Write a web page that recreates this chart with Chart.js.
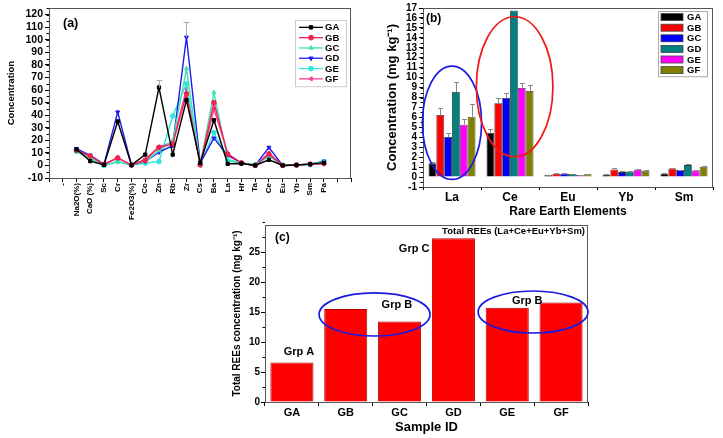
<!DOCTYPE html>
<html>
<head>
<meta charset="utf-8">
<script src="https://cdn.jsdelivr.net/npm/chart.js@4.4.0/dist/chart.umd.min.js"></script>
<style>
  html, body { margin: 0; padding: 0; background: #fff; }
  body { width: 723px; height: 438px; position: relative; overflow: hidden; }
  canvas { position: absolute; }
</style>
</head>
<body>
<canvas id="chartA" width="362" height="220" style="left:0;top:0"></canvas>
<canvas id="chartB" width="361" height="222" style="left:362px;top:0"></canvas>
<canvas id="chartC" width="390" height="220" style="left:215px;top:218px"></canvas>
<script>
const FONT = "'Liberation Sans', Arial, Helvetica, sans-serif";

// ---- (a) element concentrations per sample group ----
const elementLabels = ['', '-', 'Na2O(%)', 'CaO (%)', 'Sc', 'Cr', 'Fe2O3(%)', 'Co', 'Zn', 'Rb', 'Zr', 'Cs',
    'Ba', 'La', 'Hf', 'Ta', 'Ce', 'Eu', 'Yb', 'Sm', 'Pa', '', ''];
// values for Na2O .. Pa (19 elements)
const concGA = [12.8, 3.4, 0.5, 35, 0.3, 8.6, 62, 8.6, 52, 2, 36, 1.3, 1.5, 0, 4.5, 0, 0.3, 1, 2];
const concGB = [12, 7.5, 0.8, 6, 0.3, 4, 14.4, 17, 57, 0.5, 50, 9, 2, 0, 9, 0, 0.3, 1, 1.5];
const concGC = [11, 6, 0, 3, 0.3, 3, 11.8, 19.6, 77, 1, 58, 4.7, 2, 1, 8, 0, 0.3, 1, 2.9];
const concGD = [13.3, 8.1, 0.8, 42.4, 0.3, 3.1, 10.5, 15.7, 102, 2, 21.7, 7.9, 2, 0, 14.4, 0, 0.3, 1, 3.4];
const concGE = [11.2, 5.5, 0, 3.1, 0.3, 1.8, 3.1, 39.3, 65, 0.5, 26.2, 3.9, 1.8, 0, 7.5, 0, 0.3, 0.6, 2.9];
const concGF = [11.5, 7.6, 1, 6, 0.3, 5, 14.9, 18.3, 61, 0, 45, 9.2, 1.8, 0, 10, 0, 0.3, 1, 1.3];
const concErrGA = [0, 0, 0, 0, 0, 0, 6, 0, 0, 0, 0, 0, 0, 0, 0, 0, 0, 0, 0];
const concErrGD = [0, 0, 0, 0, 0, 0, 0, 0, 12, 0, 0, 0, 0, 0, 0, 0, 0, 0, 0];

// ---- (b) rare earth elements ----
const reeLabels = ['La', 'Ce', 'Eu', 'Yb', 'Sm'];
const reeGA = [1.38, 4.46, 0.23, 0.23, 0.34];
const reeGB = [6.24, 7.42, 0.33, 0.77, 0.87];
const reeGC = [4.03, 7.95, 0.33, 0.50, 0.70];
const reeGD = [8.56, 16.75, 0.30, 0.57, 1.20];
const reeGE = [5.27, 8.96, 0.20, 0.74, 0.67];
const reeGF = [6.07, 8.66, 0.27, 0.64, 1.04];
const reeErrGA = [0.15, 0.34, 0.02, 0.03, 0.04];
const reeErrGB = [0.67, 0.55, 0.03, 0.15, 0.06];
const reeErrGC = [0.37, 0.50, 0.03, 0.07, 0.05];
const reeErrGD = [1.00, 0, 0.03, 0.08, 0.08];
const reeErrGE = [0.57, 0.54, 0.03, 0.12, 0.05];
const reeErrGF = [1.25, 0.60, 0.03, 0.10, 0.06];

// ---- (c) total REEs ----
const sampleIds = ['GA', 'GB', 'GC', 'GD', 'GE', 'GF'];
const totalREE = [6.6, 15.5, 13.4, 27.3, 15.7, 16.6];

Chart.defaults.font.family = FONT;
Chart.defaults.color = '#000';

// pad the 19 element values onto the 23-slot axis
const padElements = vals => [null, null, ...vals, null, null];

// box around the plot plus small minor ticks on the y axis
const framePlugin = {
    id: 'frame',
    afterDraw(chart, args, opts) {
        const { ctx, chartArea: a } = chart;
        const ys = chart.scales.y;
        ctx.save();
        ctx.strokeStyle = opts.color || '#333';
        ctx.lineWidth = 1;
        ctx.strokeRect(Math.round(a.left) + 0.5, Math.round(a.top) + 0.5,
            Math.round(a.right - a.left) - 1, Math.round(a.bottom - a.top));
        if (opts.minorStep) {
            ctx.beginPath();
            const n = Math.round((ys.max - ys.min) / opts.minorStep);
            for (let i = 0; i <= n; i++) {
                const py = Math.round(ys.getPixelForValue(ys.min + i * opts.minorStep)) + 0.5;
                ctx.moveTo(a.left, py);
                ctx.lineTo(a.left - 2.5, py);
            }
            ctx.strokeStyle = '#000';
            ctx.stroke();
        }
        ctx.restore();
    }
};

const errorBarPlugin = {
    id: 'errorBars',
    afterDatasetsDraw(chart, args, opts) {
        const { ctx } = chart;
        const ys = chart.scales.y;
        ctx.save();
        ctx.strokeStyle = opts.color || '#888';
        ctx.lineWidth = 1;
        chart.data.datasets.forEach((ds, i) => {
            if (!ds.errors) return;
            chart.getDatasetMeta(i).data.forEach((el, j) => {
                const e = ds.errors[j];
                if (!e || ds.data[j] == null) return;
                const x = Math.round(el.x) + 0.5;
                const yTop = Math.round(ys.getPixelForValue(ds.data[j] + e)) + 0.5;
                ctx.beginPath();
                ctx.moveTo(x, el.y);
                ctx.lineTo(x, yTop);
                ctx.moveTo(x - opts.cap, yTop);
                ctx.lineTo(x + opts.cap, yTop);
                ctx.stroke();
            });
        });
        ctx.restore();
    }
};

const boxLegendPlugin = {
    id: 'boxLegend',
    afterDraw(chart, args, opts) {
        const { ctx, chartArea: a } = chart;
        const sets = chart.data.datasets;
        const x0 = Math.round(a.right - opts.right - opts.width);
        const y0 = Math.round(a.top + opts.top);
        const h = opts.pad * 2 + sets.length * opts.rowH;
        ctx.save();
        ctx.fillStyle = '#fff';
        ctx.fillRect(x0, y0, opts.width, h);
        ctx.strokeStyle = opts.border;
        ctx.lineWidth = 1;
        ctx.strokeRect(x0 + 0.5, y0 + 0.5, opts.width, h);
        ctx.font = opts.font;
        ctx.textBaseline = 'middle';
        sets.forEach((d, i) => {
            const cy = y0 + opts.pad + opts.rowH * (i + 0.5);
            if (opts.kind === 'line') {
                ctx.strokeStyle = d.borderColor;
                ctx.lineWidth = 1.3;
                ctx.beginPath();
                ctx.moveTo(x0 + 4, cy);
                ctx.lineTo(x0 + 28, cy);
                ctx.stroke();
                ctx.fillStyle = d.pointBackgroundColor;
                ctx.lineWidth = 1;
                Chart.helpers.drawPoint(ctx, { pointStyle: d.pointStyle, radius: 2.4,
                    rotation: d.pointRotation || 0, borderWidth: 1 }, x0 + 16, cy);
            } else {
                ctx.fillStyle = d.backgroundColor;
                ctx.fillRect(x0 + 3, cy - 3.5, 22, 7);
                ctx.strokeStyle = '#444';
                ctx.lineWidth = 0.8;
                ctx.strokeRect(x0 + 3, cy - 3.5, 22, 7);
            }
            ctx.fillStyle = '#000';
            ctx.fillText(d.label, x0 + opts.textX, cy + 0.5);
        });
        ctx.restore();
    }
};

// ellipses and labels: x in category units, y in value units
const notesPlugin = {
    id: 'notes',
    afterDraw(chart, args, opts) {
        const { ctx, chartArea: a } = chart;
        const xs = chart.scales.x, ys = chart.scales.y;
        const catW = xs.getPixelForValue(1) - xs.getPixelForValue(0);
        const unit = ys.getPixelForValue(0) - ys.getPixelForValue(1);
        ctx.save();
        (opts.ellipses || []).forEach(e => {
            ctx.beginPath();
            ctx.ellipse(xs.getPixelForValue(e.x), ys.getPixelForValue(e.y), e.rx * catW, e.ry * unit, 0, 0, Math.PI * 2);
            ctx.strokeStyle = e.color;
            ctx.lineWidth = 1.7;
            ctx.stroke();
        });
        ctx.fillStyle = '#000';
        ctx.textBaseline = 'middle';
        (opts.dataTexts || []).forEach(t => {
            ctx.font = t.font;
            ctx.textAlign = 'center';
            ctx.fillText(t.text, xs.getPixelForValue(t.x), ys.getPixelForValue(t.y));
        });
        (opts.areaTexts || []).forEach(t => {
            ctx.font = t.font;
            ctx.textAlign = t.align;
            const x = t.align === 'right' ? a.right + t.dx : a.left + t.dx;
            ctx.fillText(t.text, x, a.top + t.dy);
        });
        ctx.restore();
    }
};

function axisY(opts) {
    return {
        min: opts.min, max: opts.max,
        border: { color: '#000', width: 1 },
        grid: { drawOnChartArea: false, tickLength: opts.tickLength || 4, color: '#000' },
        ticks: { stepSize: opts.step, includeBounds: false, autoSkip: false, padding: opts.padding,
            font: { size: opts.tickSize, weight: 'bold' } },
        title: { display: true, text: opts.title, font: { size: opts.titleSize, weight: 'bold' },
            padding: { top: opts.titlePad, bottom: 0 } },
        afterFit: s => { s.width = opts.width; }
    };
}

// ---------- (a) ----------
const lineStyles = [
    { label: 'GA', data: concGA, errors: concErrGA, color: '#000000', point: 'rect', rot: 0 },
    { label: 'GB', data: concGB, color: '#f2224e', point: 'circle', rot: 0 },
    { label: 'GC', data: concGC, color: '#3ee2b0', point: 'triangle', rot: 0 },
    { label: 'GD', data: concGD, errors: concErrGD, color: '#1c1cf0', point: 'triangle', rot: 180 },
    { label: 'GE', data: concGE, color: '#2ee6dc', point: 'circle', rot: 0 },
    { label: 'GF', data: concGF, color: '#ff3c9a', point: 'triangle', rot: 270 }
];

new Chart(document.getElementById('chartA'), {
    type: 'line',
    data: {
        labels: elementLabels,
        datasets: lineStyles.map(s => ({
            label: s.label,
            data: padElements(s.data),
            errors: s.errors ? padElements(s.errors) : null,
            borderColor: s.color,
            backgroundColor: s.color,
            pointBackgroundColor: s.color,
            pointBorderColor: s.color,
            pointStyle: s.point,
            pointRotation: s.rot,
            pointRadius: 2.3,
            pointBorderWidth: 1,
            borderWidth: 1.4,
            tension: 0
        }))
    },
    options: {
        responsive: false,
        animation: false,
        devicePixelRatio: 1,
        layout: { padding: { top: 5, right: 8, left: 0, bottom: 0 } },
        plugins: {
            legend: { display: false },
            tooltip: { enabled: false },
            frame: { color: '#555', minorStep: 5 },
            errorBars: { color: '#aaa', cap: 3 },
            boxLegend: { kind: 'line', right: 5, top: 12, width: 51, rowH: 10.3, pad: 2.2,
                textX: 30, border: '#ccc', font: 'bold 9.5px ' + FONT },
            notes: { areaTexts: [ { text: '(a)', font: 'bold 12.5px ' + FONT, align: 'left', dx: 14, dy: 15 } ] }
        },
        scales: {
            x: {
                offset: false,
                border: { color: '#000', width: 1 },
                grid: { drawOnChartArea: false, tickLength: 4, color: '#000', offset: false },
                ticks: { autoSkip: false, minRotation: 90, maxRotation: 90, padding: 1,
                    font: { size: 8, weight: 'bold' } },
                afterFit: s => { s.height = 42; }
            },
            y: axisY({ min: -10, max: 125, step: 10, tickSize: 10.5, padding: 2, title: 'Concentration',
                titleSize: 9.5, titlePad: 6, width: 49, tickLength: 4 })
        }
    },
    plugins: [framePlugin, errorBarPlugin, boxLegendPlugin, notesPlugin]
});

// ---------- (b) ----------
const barStyles = [
    { label: 'GA', data: reeGA, errors: reeErrGA, color: '#000000' },
    { label: 'GB', data: reeGB, errors: reeErrGB, color: '#ff0000' },
    { label: 'GC', data: reeGC, errors: reeErrGC, color: '#0000ff' },
    { label: 'GD', data: reeGD, errors: reeErrGD, color: '#008080' },
    { label: 'GE', data: reeGE, errors: reeErrGE, color: '#ff00ff' },
    { label: 'GF', data: reeGF, errors: reeErrGF, color: '#808000' }
];

new Chart(document.getElementById('chartB'), {
    type: 'bar',
    data: {
        labels: reeLabels,
        datasets: barStyles.map(s => ({
            label: s.label,
            data: s.data,
            errors: s.errors,
            backgroundColor: s.color,
            borderColor: '#333',
            borderWidth: 0.8,
            categoryPercentage: 0.81,
            barPercentage: 1
        }))
    },
    options: {
        responsive: false,
        animation: false,
        devicePixelRatio: 1,
        layout: { padding: { top: 7, right: 10, left: 0, bottom: 0 } },
        plugins: {
            legend: { display: false },
            tooltip: { enabled: false },
            frame: { color: '#555', minorStep: 0.5 },
            errorBars: { color: '#888', cap: 2.5 },
            boxLegend: { kind: 'bar', right: 6, top: 3, width: 49, rowH: 10.6, pad: 0.8,
                textX: 29, border: '#aaa', font: 'bold 9.5px ' + FONT },
            notes: {
                ellipses: [
                    { x: 0, y: 5.46, rx: 0.51, ry: 5.7, color: '#1a1ae0' },
                    { x: 1.08, y: 9.08, rx: 0.66, ry: 7.04, color: '#f01818' }
                ],
                areaTexts: [ { text: '(b)', font: 'bold 12px ' + FONT, align: 'left', dx: 3, dy: 10.5 } ]
            }
        },
        scales: {
            x: {
                border: { color: '#000', width: 1 },
                grid: { drawOnChartArea: false, tickLength: 3, color: '#000' },
                ticks: { padding: 0, font: { size: 12, weight: 'bold' } },
                title: { display: true, text: 'Rare Earth Elements', font: { size: 12, weight: 'bold' },
                    padding: { top: 0, bottom: 3 } },
                afterFit: s => { s.height = 35; }
            },
            y: axisY({ min: -1, max: 17, step: 1, tickSize: 10, padding: 2, title: 'Concentration (mg kg⁻¹)',
                titleSize: 13, titlePad: 23, width: 61, tickLength: 4 })
        }
    },
    plugins: [framePlugin, errorBarPlugin, boxLegendPlugin, notesPlugin]
});

// ---------- (c) ----------
new Chart(document.getElementById('chartC'), {
    type: 'bar',
    data: {
        labels: sampleIds,
        datasets: [{
            label: 'Total REEs',
            data: totalREE,
            backgroundColor: '#ff0000',
            borderColor: '#b00000',
            borderWidth: 1,
            categoryPercentage: 0.8,
            barPercentage: 1
        }]
    },
    options: {
        responsive: false,
        animation: false,
        devicePixelRatio: 1,
        layout: { padding: { top: 7, right: 17, left: 0, bottom: 0 } },
        plugins: {
            legend: { display: false },
            tooltip: { enabled: false },
            frame: { color: '#555', minorStep: 2.5 },
            notes: {
                ellipses: [
                    { x: 1.535, y: 14.6, rx: 1.03, ry: 3.6, color: '#1a1ae0' },
                    { x: 4.48, y: 15.0, rx: 1.02, ry: 3.5, color: '#1a1ae0' }
                ],
                dataTexts: [
                    { text: 'Grp A', x: 0.13, y: 8.3, font: 'bold 11px ' + FONT },
                    { text: 'Grp B', x: 1.95, y: 16.2, font: 'bold 11px ' + FONT },
                    { text: 'Grp C', x: 2.27, y: 25.5, font: 'bold 11px ' + FONT },
                    { text: 'Grp B', x: 4.37, y: 16.8, font: 'bold 11px ' + FONT }
                ],
                areaTexts: [
                    { text: '(c)', font: 'bold 12px ' + FONT, align: 'left', dx: 10, dy: 12.7 },
                    { text: 'Total REEs (La+Ce+Eu+Yb+Sm)', font: 'bold 9.5px ' + FONT, align: 'right', dx: -3, dy: 6 }
                ]
            }
        },
        scales: {
            x: {
                border: { color: '#000', width: 1 },
                grid: { drawOnChartArea: false, tickLength: 4, color: '#000' },
                ticks: { padding: 0, font: { size: 11, weight: 'bold' } },
                title: { display: true, text: 'Sample ID', font: { size: 13, weight: 'bold' },
                    padding: { top: 0, bottom: 3 } },
                afterFit: s => { s.height = 36; }
            },
            y: axisY({ min: 0, max: 29.5, step: 5, tickSize: 10, padding: 1, title: 'Total REEs concentration (mg kg⁻¹)',
                titleSize: 10, titlePad: 16, width: 50, tickLength: 4 })
        }
    },
    plugins: [framePlugin, notesPlugin]
});
</script>
</body>
</html>
